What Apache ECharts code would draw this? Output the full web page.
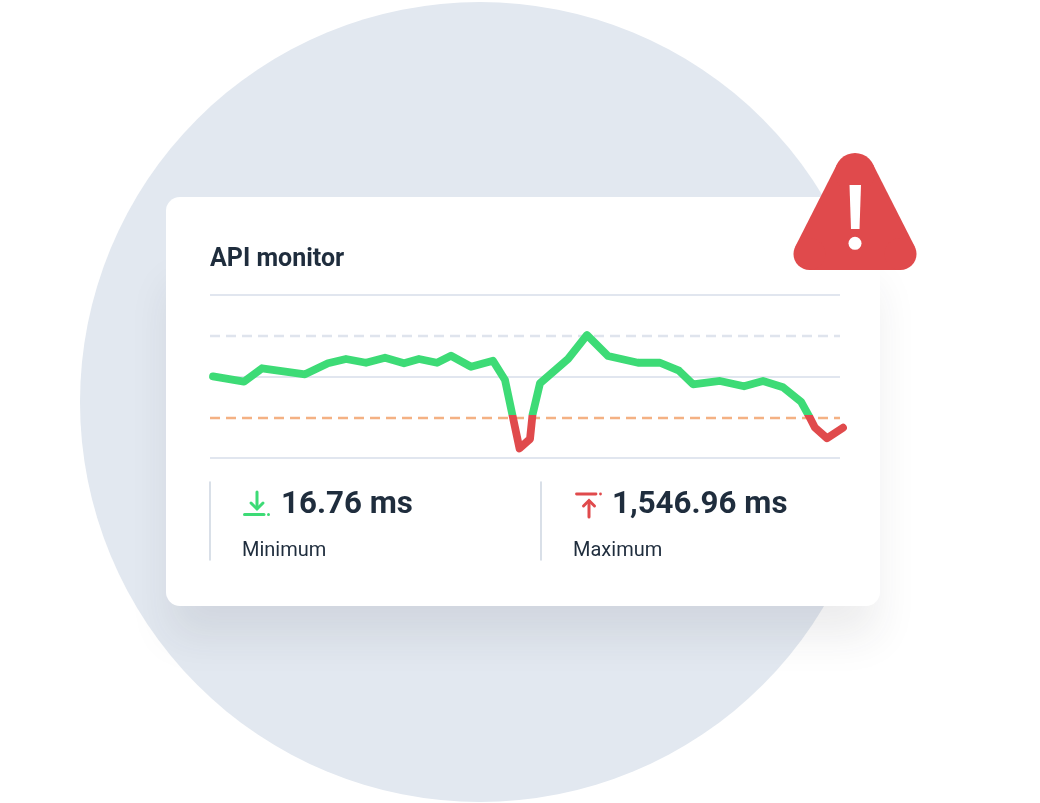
<!DOCTYPE html>
<html>
<head>
<meta charset="utf-8">
<title>API monitor</title>
<script src="https://cdn.jsdelivr.net/npm/echarts@6/dist/echarts.min.js"></script>
<style>
  html, body { margin: 0; padding: 0; background: #fff; }
  #chart { width: 1040px; height: 803px; }
</style>
</head>
<body>
<div id="chart"></div>
<script>
const sampleTimes = [3, 34, 52, 95, 118, 136, 156, 175, 194, 209, 227, 241, 261, 283, 295, 309.5, 320, 322.5, 330, 358, 377, 398, 428, 450, 469, 483, 510, 534, 553, 573, 591, 599, 605, 617, 633]
const latencyValues = [1002, 936, 1101, 1027, 1162, 1215, 1169, 1231, 1162, 1215, 1169, 1255, 1120, 1194, 957, 117, 233, 528, 917, 1215, 1509, 1252, 1169, 1169, 1071, 904, 945, 880, 945, 868, 691, 515, 372, 242, 372]
const solidLevels = [0, 1000, 2000]
const warningLevel = 1500
const alertLevel = 500
const redBelow = 530
const axisMax = 2000
const ruleEnd = 630

const INK = "#1f2d3d"
const GREEN = "#3ddb76"
const RED = "#e04a4c"
const GRID = "#e1e6ef"
const FONT = "Roboto, sans-serif"

// y is the vertical middle of the text
const label = (x, y, text, size, weight) => ({
  type: "text",
  z: 4,
  style: { x, y, text, fill: INK, font: `${weight} ${size}px ${FONT}`, verticalAlign: "middle" },
})

const stroke = (points, color, width) => ({
  type: "polyline",
  z: 4,
  shape: { points },
  style: { stroke: color, fill: null, lineWidth: width, lineCap: "round", lineJoin: "miter" },
})

const dot = (cx, cy, r, color, z = 4) => ({
  type: "circle",
  z,
  shape: { cx, cy, r },
  style: { fill: color },
})

// one horizontal rule across the card, level is in axis units
const rule = (level, lineStyle) => [
  { xAxis: 0, yAxis: level, lineStyle },
  { xAxis: ruleEnd, yAxis: level },
]

const decorations = [
  // backdrop and card
  dot(480, 402, 400, "#e2e8f0", 1),
  {
    type: "rect",
    z: 2,
    shape: { x: 170, y: 240, width: 706, height: 350 },
    style: { fill: "#fff", shadowBlur: 40, shadowOffsetY: 46, shadowColor: "rgba(44,48,54,0.09)" },
  },
  {
    type: "rect",
    z: 2,
    shape: { x: 166, y: 197, width: 714, height: 409, r: 14 },
    style: { fill: "#fff" },
  },
  label(210, 260, "API monitor", 25, 700),
  // stat blocks
  stroke([[210, 482], [210, 560]], "#d0d8e3", 1.6),
  stroke([[541, 482], [541, 560]], "#d0d8e3", 1.6),
  label(281, 505.5, "16.76 ms", 31.3, 700),
  label(242, 551, "Minimum", 20, 400),
  label(612, 505.5, "1,546.96 ms", 31.3, 700),
  label(573, 551, "Maximum", 20, 400),
  // minimum icon
  stroke([[257, 492], [257, 508]], GREEN, 3),
  stroke([[251, 503], [257, 509], [263, 503]], GREEN, 3),
  stroke([[244.5, 514.5], [264, 514.5]], GREEN, 3),
  dot(268.5, 514.5, 1.5, GREEN),
  // maximum icon
  stroke([[576.5, 494], [596, 494]], RED, 2.8),
  dot(600.5, 494, 1.4, RED),
  stroke([[589, 501], [589, 517]], RED, 3),
  stroke([[583.5, 506], [589, 500.5], [594.5, 506]], RED, 3),
  // warning triangle: a hull plus one circle per rounded corner
  {
    type: "polygon",
    z: 5,
    shape: { points: [[837.3, 163.7], [872.7, 163.7], [914.7, 246.6], [900.5, 270], [809.5, 270], [795.3, 246.6]] },
    style: { fill: RED },
  },
  dot(855, 173, 20, RED, 5),
  dot(809.5, 254, 16, RED, 5),
  dot(900.5, 254, 16, RED, 5),
  {
    type: "polygon",
    z: 6,
    shape: { points: [[849.5, 185], [861, 185], [859.5, 229], [851, 229]] },
    style: { fill: "#fff" },
  },
  dot(855, 243.3, 6.5, "#fff", 6),
]

const chart = echarts.init(document.getElementById("chart"), null, { renderer: "canvas" })

chart.setOption({
  animation: false,
  backgroundColor: "#fff",
  // the grid runs wider than the rules so the line's round caps are not cut off
  grid: { left: 200, right: 185, top: 295, bottom: 345 },
  graphic: { elements: decorations },
  xAxis: {
    type: "value",
    min: -10,
    max: 645,
    show: false,
  },
  yAxis: {
    type: "value",
    min: 0,
    max: axisMax,
    interval: 1000,
    axisLine: { show: false },
    axisTick: { show: false },
    axisLabel: { show: false },
    splitLine: { show: false },
  },
  visualMap: {
    show: false,
    type: "piecewise",
    dimension: 1,
    seriesIndex: 0,
    // both ends bounded, or the line gets no colour stops
    pieces: [
      { gte: 0, lt: redBelow, color: RED },
      { gte: redBelow, lte: axisMax, color: GREEN },
    ],
  },
  series: [
    {
      type: "line",
      z: 4,
      symbol: "none",
      data: sampleTimes.map((t, i) => [t, latencyValues[i]]),
      lineStyle: { width: 7.8, cap: "round", join: "round" },
      markLine: {
        silent: true,
        symbol: "none",
        label: { show: false },
        precision: 4,
        z: 3,
        data: [
          ...solidLevels.map(level => rule(level, { color: GRID, type: "solid", width: 2 })),
          rule(warningLevel, { color: "#dfe4ed", type: [10, 6], width: 2.4 }),
          rule(alertLevel, { color: "#f4b183", type: [10, 6], width: 2.4 }),
        ],
      },
    },
  ],
})
</script>
</body>
</html>
